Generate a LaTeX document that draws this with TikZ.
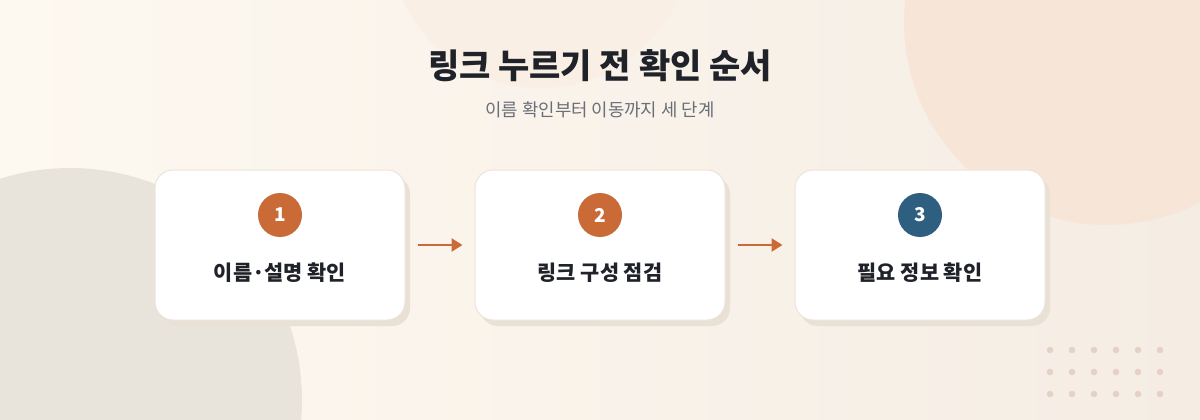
\documentclass[tikz,border=0pt]{standalone}
\usepackage{fontspec}
\setmainfont{Noto Sans CJK KR}
\usetikzlibrary{arrows.meta,shadings}
\definecolor{bgA}{HTML}{FDF8F0}
\definecolor{bgB}{HTML}{F5EDE4}
\definecolor{blobL}{HTML}{E8E4DC}
\definecolor{blobR}{HTML}{F7E6D8}
\definecolor{blobT}{HTML}{FAEFE4}
\definecolor{cardline}{HTML}{ECE4DA}
\definecolor{cardshadow}{HTML}{E9E1D6}
\definecolor{orangeC}{HTML}{C96A37}
\definecolor{blueC}{HTML}{2E5F80}
\definecolor{titleC}{HTML}{1F2228}
\definecolor{subC}{HTML}{6A6E78}
\definecolor{dotC}{HTML}{E6D1C6}
\tikzset{
  card/.style={draw=cardline, line width=1pt, fill=white, rounded corners=18pt,
    minimum width=250pt, minimum height=150pt, inner sep=0pt},
  cardshade/.style={fill=cardshadow, rounded corners=18pt},
  numdot/.style={circle, minimum size=44pt, inner sep=0pt, text=white,
    font=\bfseries\fontsize{19}{21}\selectfont},
  steplabel/.style={text=titleC, font=\bfseries\fontsize{20.8}{24}\selectfont},
  flow/.style={draw=orangeC, line width=2.5pt, shorten <=12pt, shorten >=12pt,
    -{Triangle[length=11pt,width=13pt]}},
  bgdot/.style={fill=dotC}
}
\begin{document}
\begin{tikzpicture}[x=1pt,y=-1pt]
\useasboundingbox (0,0) rectangle (1200,420);
\begin{scope}
\clip (0,0) rectangle (1200,420);
\shade[shading=axis, shading angle=135, left color=bgA, right color=bgB] (0,0) rectangle (1200,420);
\fill[blobT] (540,-63) circle (151);
\fill[blobR] (1107,22) circle (203);
\fill[blobL] (70,400) circle (232);
\foreach \i in {0,...,5}{
  \foreach \j in {0,1,2}{
    \fill[bgdot] (1050+22*\i,350+22*\j) circle (3.3);
  }
}
\end{scope}

\node[text=titleC, font=\bfseries\fontsize{34}{40}\selectfont] (title) at (600,66) {링크 누르기 전 확인 순서};
\node[text=subC, font=\fontsize{17.8}{21}\selectfont] (sub) at (600,110) {이름 확인부터 이동까지 세 단계};

\foreach \k/\cx in {1/280,2/600,3/920}{
  \fill[cardshade] (\cx-125+5,170+6) rectangle (\cx+125+5,320+6);
}
\node[card] (box1) at (280,245) {};
\node[card] (box2) at (600,245) {};
\node[card] (box3) at (920,245) {};

\node[numdot, fill=orangeC] (n1) at (280,215) {1};
\node[numdot, fill=orangeC] (n2) at (600,215) {2};
\node[numdot, fill=blueC] (n3) at (920,215) {3};

\node[steplabel] (l1) at (280,273) {이름·설명 확인};
\node[steplabel] (l2) at (600,273) {링크 구성 점검};
\node[steplabel] (l3) at (920,273) {필요 정보 확인};

\draw[flow] (box1.east) -- (box2.west);
\draw[flow] (box2.east) -- (box3.west);
\end{tikzpicture}
\end{document}
